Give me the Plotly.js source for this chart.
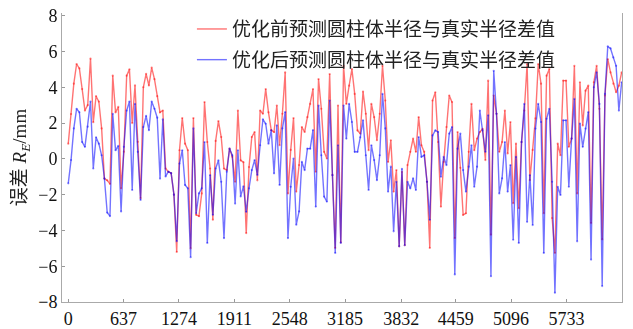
<!DOCTYPE html>
<html>
<head>
<meta charset="utf-8">
<script src="https://cdn.plot.ly/plotly-3.0.1.min.js"></script>
<style>html,body{margin:0;padding:0;background:#fff;}#chart{width:633px;height:329px;}</style>
</head>
<body>
<div id="chart"></div>
<script>
// Sampling step along the x axis (sample number)
const sampleStep = 32;

// Series names
const seriesNames = ["优化前预测圆柱体半径与真实半径差值", "优化后预测圆柱体半径与真实半径差值"];

// Error before optimisation (mm)
const errorBefore = [
  0.85, 2.5, 4.2, 5.3, 5.05, 3.9, 2.7, 3.0, 5.6, 2.05, 3.5, 3.2, 1.7, -1.1, -1.2, -1.4, 4.65, 2.6, 2.9, -1.65,
  0.4, 4.65, 5.0, 2.0, 4.1, 0.95, -2.2, 4.0, 4.75, 4.1, 5.1, 4.45, 3.5, 2.6,
  2.7, -0.54, -0.72, -0.8, -2.0, -5.2, 0.48, 2.28, 0.85, 0.48, -5.0, 2.28, -3.13, -3.2, -1.93, 3.17,
  0.94, -0.54, -3.4, 1.0, 2.11, 1.22, -0.54, -0.63, 0.57, 0.11, -1.28, 2.7, -0.09, -0.19, -4.15, -0.46, 1.22,
  1.5, -1.2, 2.7, 2.52, 3.9, 2.6, 1.6, 1.5, 2.98, 0.76, 2.52, 4.83, -1.93, 0.5, 2.28, -1.83, -0.35,
  1.78, 1.5, 2.33, 3.07, 3.9, -0.72, 4.46, 2.8, 0.39, 0.02, 4.74, -0.9, -4.98, 2.98, -4.67, 5.2,
  3.07, 4.09, 5.02, 3.63, 1.59, 1.41, 3.76, 2.52, 0.48, 3.07, 2.33, 1.04, 2.52, 5.2, 3.26, -0.17, 1.04,
  -1.83, -0.63, -4.89, -0.72, -4.83, -0.35, 0.39, 1.13, 0.39, 2.33, 0.76, 0.39, -1.28, -4.98, 3.26, 3.72, 0.94,
  -2.67, -0.17, 1.78, 3.54, 3.17, -4.43, 1.5, -0.5, -3.13, -3.04, 0.39, 3.07, 0.48, 1.13, 1.5, 1.68, -0.07,
  4.37, -4.24, 3.54, 2.52, 0.39, 0.94, 2.7, 0.3, 2.06, -2.48, 0.85, -2.76, 0.94, 2.7, 5.3, -1.19,
  0.5, 2.26, 5.3, 4.2, -3.04, 4.65, 5.02, -3.31, -5.26, 0.85, 0.2, 4.37, 4.37, 0.67, 1.13, 5.2, -1.93,
  4.28, 1.87, 3.81, 4.09, -3.59, 4.28, 5.2, 2.8, -4.5, 3.54, 5.57, 4.83, 4.2, 3.72, 4.09, 4.83
];

// Error after optimisation (mm)
const errorAfter = [
  -1.37, -0.07, 1.7, 2.8, 2.6, 0.94, 0.67, 1.8, 3.2, -0.54, 1.2, 0.85, 0.2, -1.1, -3.0, -3.2, 2.52, 0.48, 0.72, -2.94,
  0.67, 2.7, 3.2, -1.74, 3.07, 0.39, -2.3, 1.78, 2.4, 1.6, 3.2, 2.8, 2.3, -1.1,
  2.2, -0.98, -0.72, -0.8, -2.0, -4.6, -0.26, 0.48, -1.46, -1.65, -5.5, 1.7, -3.04, -1.93, -1.65, 0.94,
  -4.7, -0.91, -3.13, -0.54, -0.09, -1.28, -4.43, -0.72, 0.57, 0.2, -2.5, 0.48, -2.1, -1.54, -2.96, -1.65, -0.63,
  -0.07, -0.9, 0.76, 2.2, 1.96, 0.85, 1.6, -0.81, 1.87, -1.46, 1.7, 2.61, -4.43, -1.56, 0.02, -3.68, -2.94,
  -0.17, -0.63, 0.57, 0.57, 1.6, -2.67, 2.98, 0.2, -2.11, -2.39, 3.26, -0.91, -5.26, 0.76, -4.7, 2.98,
  1.13, 3.07, 2.06, 0.39, 0.39, 1.2, 2.15, 0.2, -1.74, 0.76, -0.07, -1.19, 0.2, 3.63, 1.7, -1.83, -0.44,
  -4.05, -1.28, -4.89, -0.56, -4.83, -1.28, -1.65, -1.09, -1.74, 1.22, 0.11, 0.2, -1.28, -3.41, 1.31, 1.59, 1.5,
  -1.0, 0.11, -0.35, 1.41, 1.78, -6.46, 0.57, 1.41, -0.63, -1.83, -0.44, 0.76, -1.56, -0.44, 2.7, 1.59, 0.39,
  2.43, -6.56, 4.92, 2.52, -1.93, -1.09, 0.94, -1.83, -0.35, -4.52, 0.11, -4.7, 0.94, 3.07, -3.52, -0.91,
  -3.7, 1.69, 3.07, 2.06, -5.26, 2.24, 2.8, -1.28, -7.48, -1.56, -2.02, 2.15, 2.15, -1.56, 1.13, 3.35, -4.61,
  1.97, 0.67, 1.69, 2.61, -5.63, 4.0, 4.83, 3.07, -7.11, 3.63, 6.28, 6.17, 5.67, 5.2, 2.7, 4.28
];

// Axis tick values / labels
const xTickVals = [0, 637, 1274, 1911, 2548, 3185, 3832, 4459, 5096, 5733];
const xTickText = ["0", "637", "1274", "1911", "2548", "3185", "3832", "4459", "5096", "5733"];
const yTickVals = [-8, -6, -4, -2, 0, 2, 4, 6, 8];

const sampleX = errorBefore.map((_, i) => i * sampleStep);

const seriesColors = ['rgb(255,0,0)', 'rgb(0,0,255)'];
const seriesData = [errorBefore, errorAfter];

const traces = [];
seriesData.forEach((ys, k) => {
  traces.push({
    x: sampleX, y: ys, name: seriesNames[k], type: 'scatter', mode: 'lines',
    line: {color: seriesColors[k], width: 1.4}, opacity: 0.55,
    legendgroup: 'g' + k, showlegend: true
  });
  traces.push({
    x: sampleX, y: ys, name: seriesNames[k], type: 'scatter', mode: 'markers',
    marker: {color: seriesColors[k], size: 2.2}, opacity: 0.45,
    legendgroup: 'g' + k, showlegend: false, hoverinfo: 'skip'
  });
});

const tickFont = {family: 'Liberation Serif, Times New Roman, serif', size: 18, color: '#111'};

const layout = {
  width: 633, height: 329,
  margin: {l: 62, r: 11, t: 10, b: 27, pad: 0},
  paper_bgcolor: '#fff', plot_bgcolor: '#fff',
  showlegend: true,
  legend: {
    x: 0.232, y: 1.01, xanchor: 'left', yanchor: 'top',
    bgcolor: 'rgba(255,255,255,0)', borderwidth: 0,
    font: {family: 'Noto Sans CJK SC, sans-serif', size: 19, color: '#222'},
    traceorder: 'grouped', tracegroupgap: 3
  },
  xaxis: {
    range: [-72, 6372], tickmode: 'array', tickvals: xTickVals, ticktext: xTickText,
    ticks: 'inside', ticklen: 3, tickcolor: '#999', tickwidth: 1,
    showline: true, linecolor: '#aaa', linewidth: 1, mirror: false,
    showgrid: false, zeroline: false, tickfont: tickFont
  },
  yaxis: {
    range: [-8, 8.15], tickmode: 'array', tickvals: yTickVals,
    ticks: 'inside', ticklen: 3, tickcolor: '#999', tickwidth: 1,
    showline: true, linecolor: '#aaa', linewidth: 1, mirror: true,
    showgrid: false, zeroline: false, tickfont: tickFont,
    title: {
      text: '误差 <i>R</i><sub><i>E</i></sub>/mm',
      font: {family: 'Liberation Serif, Noto Sans CJK SC, serif', size: 19, color: '#222'},
      standoff: 6
    }
  }
};

Plotly.newPlot('chart', traces, layout, {displayModeBar: false, staticPlot: true});
</script>
</body>
</html>
